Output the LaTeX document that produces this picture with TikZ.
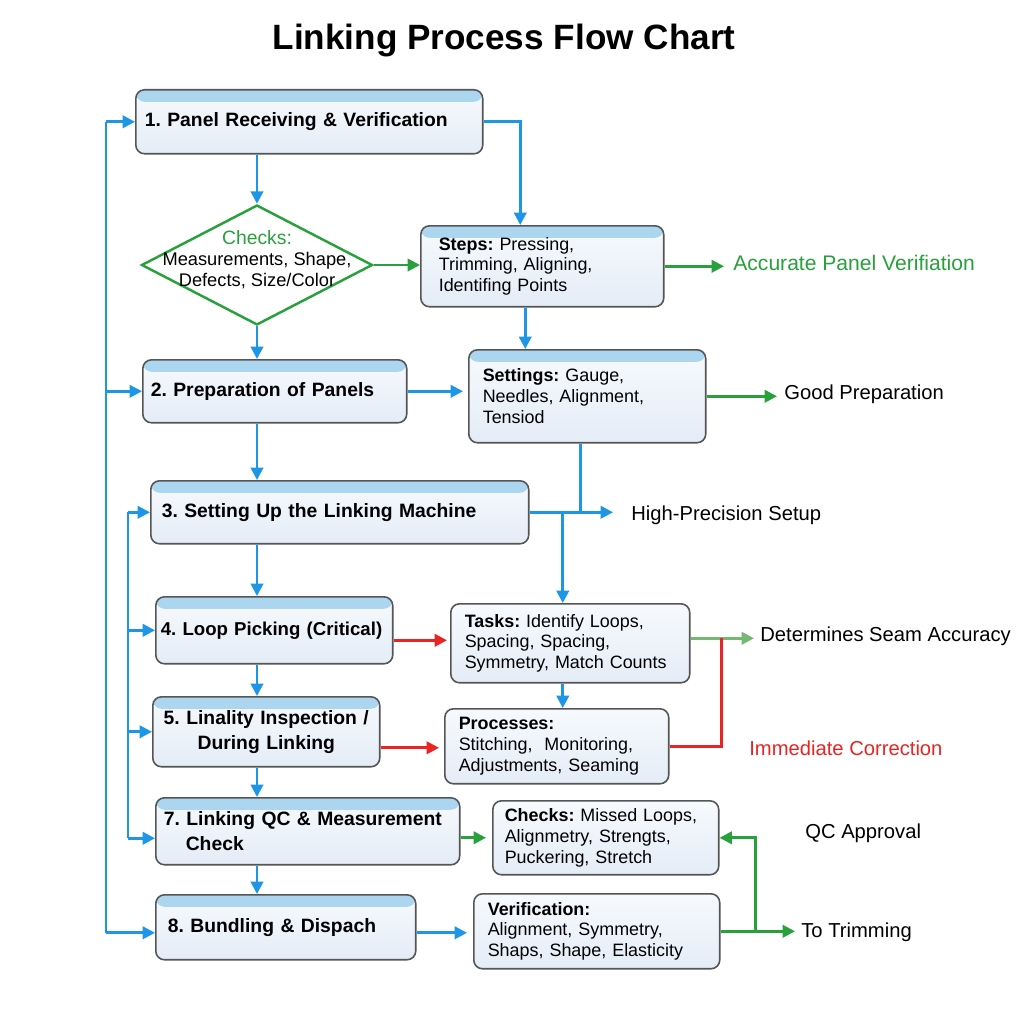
\documentclass[tikz,border=0pt]{standalone}
\usepackage{fontspec}
\setmainfont{Liberation Sans}
\usetikzlibrary{arrows.meta,positioning,shapes.geometric,calc}
\definecolor{flowblue}{RGB}{30,150,230}
\definecolor{okgreen}{RGB}{40,160,60}
\definecolor{softgreen}{RGB}{115,185,115}
\definecolor{alarm}{RGB}{235,35,35}
\definecolor{headblue}{RGB}{172,214,240}
\definecolor{boxtop}{RGB}{247,250,253}
\definecolor{boxfill}{RGB}{228,236,247}
\definecolor{boxline}{RGB}{85,85,85}

\begin{document}
\begin{tikzpicture}[x=0.02cm,y=-0.02cm,
    box/.style={draw=boxline,line width=0.9pt,rounded corners=5pt,top color=boxtop,bottom color=boxfill,
      anchor=north west,align=left,inner ysep=0pt},
    headed/.style={path picture={\fill[headblue] (path picture bounding box.north west)
      rectangle ([yshift=-0.24cm]path picture bounding box.north east);}},
    stage/.style={box,headed,font=\fontsize{11}{14}\selectfont\bfseries\frenchspacing,inner xsep=0.16cm},
    detail/.style={box,font=\fontsize{10.2}{11.8}\selectfont\frenchspacing,inner xsep=0.28cm},
    gate/.style={diamond,draw=okgreen,line width=1.4pt,fill=white,
      minimum width=4.62cm,minimum height=2.4cm,inner sep=0pt},
    lbl/.style={anchor=west,font=\fontsize{11.5}{14}\selectfont,inner sep=0pt},
    wire/.style={line width=1.5pt},
    tip/.style={-{Triangle[length=7pt,width=7pt]}},
    flow/.style={wire,tip,flowblue},
    flowline/.style={wire,flowblue},
    okflow/.style={wire,tip,okgreen},
    alarmflow/.style={wire,tip,alarm}]
  \fill[white] (0,0) rectangle (1024,1024);
  \useasboundingbox (0,0) rectangle (1024,1024);

  \node[font=\fontsize{20}{24}\selectfont\bfseries] (title) at (504,40) {Linking Process Flow Chart};

  \node[stage,minimum width=6.94cm,minimum height=1.28cm,text width=6.58cm,inner xsep=0.18cm] (b1) at (135,89)
    {1. Panel Receiving \& Verification};
  \node[gate] (chk) at (257,265) {};
  \node[align=center,font=\fontsize{10.4}{12}\selectfont] (chktxt) at (257,260)
    {\textcolor{okgreen}{\fontsize{11}{12}\selectfont Checks:}\\Measurements, Shape,\\Defects, Size/Color};
  \node[detail,headed,minimum width=4.86cm,minimum height=1.62cm,text width=4.14cm,inner xsep=0.36cm] (steps) at (420,225)
    {\textbf{Steps:} Pressing,\\Trimming, Aligning,\\Identifing Points};
  \node[stage,minimum width=5.28cm,minimum height=1.26cm,text width=4.96cm] (b2) at (142,359)
    {2. Preparation of Panels};
  \node[detail,headed,minimum width=4.74cm,minimum height=1.86cm,text width=4.18cm] (set) at (468,349)
    {\textbf{Settings:} Gauge,\\Needles, Alignment,\\Tensiod};
  \node[stage,minimum width=7.56cm,minimum height=1.26cm,text width=7.12cm,inner xsep=0.22cm] (b3) at (150,480)
    {3. Setting Up the Linking Machine};
  \node[stage,minimum width=4.74cm,minimum height=1.34cm,text width=4.54cm,inner xsep=0.1cm,
    font=\fontsize{10.6}{14}\selectfont\bfseries\frenchspacing] (b4) at (155,596)
    {4. Loop Picking (Critical)};
  \node[detail,minimum width=4.78cm,minimum height=1.58cm,text width=4.22cm] (tasks) at (450,603)
    {\textbf{Tasks:} Identify Loops,\\Spacing, Spacing,\\Symmetry, Match Counts};
  \node[stage,minimum width=4.54cm,minimum height=1.4cm,text width=4.22cm,align=center] (b5) at (152,696)
    {5. Linality Inspection /\\During Linking};
  \node[detail,minimum width=4.48cm,minimum height=1.5cm,text width=3.92cm] (proc) at (444,708)
    {\textbf{Processes:}\\Stitching,\ \ Monitoring,\\Adjustments, Seaming};
  \node[stage,minimum width=6.08cm,minimum height=1.34cm,text width=5.76cm] (b7) at (155,797)
    {7. Linking QC \& Measurement\\\hspace*{0.44cm}Check};
  \node[detail,minimum width=4.52cm,minimum height=1.48cm,text width=4.04cm,inner xsep=0.24cm] (qc) at (492,800)
    {\textbf{Checks:} Missed Loops,\\Alignmetry, Strengts,\\Puckering, Stretch};
  \node[stage,minimum width=5.2cm,minimum height=1.3cm,text width=4.72cm,inner xsep=0.24cm] (b8) at (155,894)
    {8. Bundling \& Dispach};
  \node[detail,minimum width=4.92cm,minimum height=1.5cm,text width=4.36cm] (ver) at (473,893)
    {\textbf{Verification:}\\Alignment, Symmetry,\\Shaps, Shape, Elasticity};

  \node[lbl,okgreen,font=\fontsize{12}{14}\selectfont] (acc) at (733,263) {Accurate Panel Verifiation};
  \node[lbl] (good) at (784,394) {Good Preparation};
  \node[lbl] (high) at (631,515) {High-Precision Setup};
  \node[lbl] (seam) at (760,636) {Determines Seam Accuracy};
  \node[lbl,alarm] (corr) at (749,748) {Immediate Correction};
  \node[lbl] (qcok) at (805,833) {QC Approval};
  \node[lbl] (trim) at (801,932) {To Trimming};

  \coordinate (spine) at (257,0);
  \coordinate (outer) at (106,0);
  \coordinate (inner) at (128,0);
  \coordinate (b8in) at ($(b8.west)+(0,5.5)$);
  \coordinate (b7in) at ($(b7.west)+(0,7)$);
  \coordinate (s2s) at ($(steps.south)+(-17,0)$);
  \coordinate (sdrop) at ($(set.south)+(-6.5,0)$);
  \coordinate (tdrop) at ($(tasks.north)+(-7.5,0)$);
  \coordinate (tout) at ($(tasks.east)+(0,-5)$);

  \draw[flow] (spine |- b1.south) -- (chk.north);
  \draw[flow] (chk.south) -- (spine |- b2.north);
  \foreach \u/\v in {b2/b3,b3/b4,b4/b5,b5/b7,b7/b8}
    \draw[flow] (spine |- \u.south) -- (spine |- \v.north);

  \draw[flowline] (outer |- b1.west) -- (outer |- b8in);
  \foreach \n in {b1,b2,b8in}
    \draw[flow] (outer |- \n) -- (\n);
  \draw[flowline] (inner |- b3.west) -- (inner |- b7in);
  \foreach \n in {b3,b4,b5,b7in}
    \draw[flow] (inner |- \n) -- (\n);

  \draw[flow] (b1.east) -| ($(steps.north)+(-22,0)$);
  \draw[okflow] (chk.east) -- (chk.east -| steps.west);
  \draw[okflow,shorten >=0.18cm] (steps.east) -- (steps.east -| acc.west);
  \draw[flow] (s2s) -- (s2s |- set.north);
  \draw[flow,shorten >=0.1cm] (b2.east) -- (b2.east -| set.west);
  \draw[okflow,shorten >=0.14cm] (set.east) -- (set.east -| good.west);

  \draw[flow,shorten >=0.36cm] (b3.east) -- (b3.east -| high.west);
  \draw[flowline] (sdrop) -- (sdrop |- b3.east);
  \draw[flow] (tdrop |- b3.east) -- (tdrop);

  \draw[alarmflow,shorten >=0.06cm] ($(b4.east)+(0,10)$) -- ($(b4.east -| tasks.west)+(0,10)$);
  \draw[wire,tip,softgreen,shorten >=0.12cm] (tout) -- (tout -| seam.west);
  \draw[flow] (tdrop |- tasks.south) -- (tdrop |- proc.north);
  \draw[alarmflow,shorten >=0.1cm] ($(b5.east)+(0,16)$) -- ($(b5.east -| proc.west)+(0,16)$);
  \draw[wire,alarm] (proc.east) -| ($(tout)+(31,0)$);

  \draw[okflow,shorten >=0.12cm] ($(b7.east)+(0,6.5)$) -- ($(b7.east -| qc.west)+(0,6.5)$);
  \draw[flow,shorten >=0.12cm] ($(b8.east)+(0,5.5)$) -- ($(b8.east -| ver.west)+(0,5.5)$);
  \draw[okflow,shorten >=0.12cm] (ver.east) -- (ver.east -| trim.west);
  \draw[okflow] ($(ver.east)+(35,0)$) |- (qc.east);
\end{tikzpicture}
\end{document}
